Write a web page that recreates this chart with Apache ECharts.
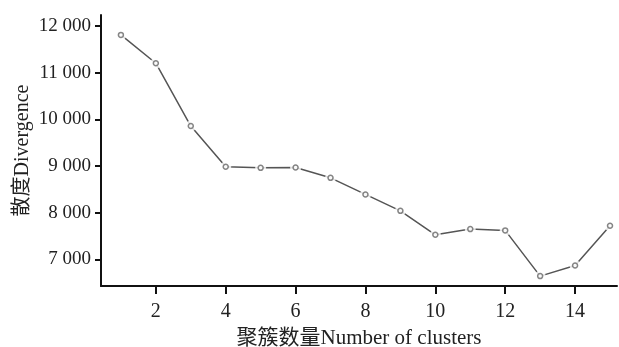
<!DOCTYPE html>
<html><head><meta charset="utf-8">
<script src="https://cdn.jsdelivr.net/npm/echarts@6/dist/echarts.min.js"></script>
<style>html,body{margin:0;padding:0;background:#fff}#c{width:619px;height:347px}</style>
</head><body><div id="c"></div>
<script>
const clusters = [1,2,3,4,5,6,7,8,9,10,11,12,13,14,15];
const divergence = [11813,11206,9860,8985,8963,8970,8749,8393,8041,7528,7650,7622,6642,6871,7721];
const xTicks = [2,4,6,8,10,12,14];
const yTicks = [7000,8000,9000,10000,11000,12000];
const xTitle = '聚簇数量Number of clusters';
const yTitle = '散度Divergence';

const pts = clusters.map((c,i)=>[c,divergence[i]]);
const font = '"Liberation Serif","Noto Sans CJK SC",serif';
const chart = echarts.init(document.getElementById('c'));
chart.setOption({
  animation:false,
  grid:{left:101,right:2,top:15,bottom:61,outerBoundsMode:'none',containLabel:false},
  xAxis:{type:'value',min:0.43,max:15.2,
    name:xTitle,nameLocation:'middle',nameGap:42,nameMoveOverlap:false,
    nameTextStyle:{fontFamily:font,fontSize:21,color:'#222'},
    axisLine:{show:true,lineStyle:{color:'#111',width:2}},
    axisTick:{show:true,length:8,inside:false,lineStyle:{color:'#111',width:2},customValues:xTicks},
    axisLabel:{fontFamily:font,fontSize:20,color:'#222',margin:16,customValues:xTicks},
    splitLine:{show:false}},
  yAxis:{type:'value',min:6430,max:12240,
    name:yTitle,nameLocation:'middle',nameGap:68,nameRotate:90,nameMoveOverlap:false,
    nameTextStyle:{fontFamily:font,fontSize:20,color:'#222'},
    axisLine:{show:true,lineStyle:{color:'#111',width:2}},
    axisTick:{show:true,length:6,lineStyle:{color:'#111',width:2},customValues:yTicks},
    axisLabel:{fontFamily:font,fontSize:19,color:'#222',margin:10,customValues:yTicks,
      formatter:v=>{const s=String(v);return s.slice(0,s.length-3)+' '+s.slice(-3);}},
    splitLine:{show:false}},
  series:[
    {type:'line',data:pts,showSymbol:false,lineStyle:{color:'#555',width:1.5},z:2},
    {type:'scatter',data:pts,symbol:'circle',symbolSize:11,itemStyle:{color:'#fff'},z:3},
    {type:'scatter',data:pts,symbol:'circle',symbolSize:5,itemStyle:{color:'#fff',borderColor:'#666',borderWidth:1.5},z:4}
  ]
});
</script></body></html>
